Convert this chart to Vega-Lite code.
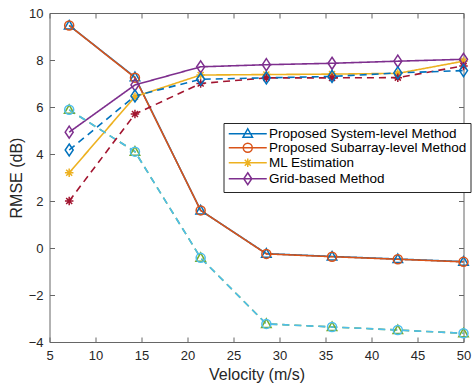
{
  "$schema": "https://vega.github.io/schema/vega-lite/v6.json",
  "width": 414,
  "height": 329,
  "autosize": {"type": "none"},
  "padding": {"left": 49.5, "top": 13, "right": 11.5, "bottom": 44},
  "background": "white",
  "config": {"view": {"stroke": null}, "font": "Liberation Sans",
    "legend": {"labelFontSize": 13.5, "labelFont": "Liberation Sans", "labelColor": "#000000", "labelLimit": 300, "padding": 4, "rowPadding": -1, "strokeColor": "#262626", "fillColor": "white", "symbolOffset": 13.5, "labelOffset": 14.5, "symbolStrokeWidth": 1.5, "symbolOpacity": 1, "symbolSize": 100}},
  "data": {"values": [
    {"series": "Proposed System-level Method", "v": 7.14, "rmse": 9.47},
    {"series": "Proposed System-level Method", "v": 14.29, "rmse": 7.27},
    {"series": "Proposed System-level Method", "v": 21.43, "rmse": 1.6},
    {"series": "Proposed System-level Method", "v": 28.57, "rmse": -0.24},
    {"series": "Proposed System-level Method", "v": 35.71, "rmse": -0.36},
    {"series": "Proposed System-level Method", "v": 42.86, "rmse": -0.47},
    {"series": "Proposed System-level Method", "v": 50, "rmse": -0.58},
    {"series": "Proposed Subarray-level Method", "v": 7.14, "rmse": 9.47},
    {"series": "Proposed Subarray-level Method", "v": 14.29, "rmse": 7.25},
    {"series": "Proposed Subarray-level Method", "v": 21.43, "rmse": 1.6},
    {"series": "Proposed Subarray-level Method", "v": 28.57, "rmse": -0.25},
    {"series": "Proposed Subarray-level Method", "v": 35.71, "rmse": -0.37},
    {"series": "Proposed Subarray-level Method", "v": 42.86, "rmse": -0.48},
    {"series": "Proposed Subarray-level Method", "v": 50, "rmse": -0.59},
    {"series": "ML Estimation", "v": 7.14, "rmse": 3.2},
    {"series": "ML Estimation", "v": 14.29, "rmse": 6.44},
    {"series": "ML Estimation", "v": 21.43, "rmse": 7.36},
    {"series": "ML Estimation", "v": 28.57, "rmse": 7.38},
    {"series": "ML Estimation", "v": 35.71, "rmse": 7.4},
    {"series": "ML Estimation", "v": 42.86, "rmse": 7.43},
    {"series": "ML Estimation", "v": 50, "rmse": 7.95},
    {"series": "Grid-based Method", "v": 7.14, "rmse": 4.93},
    {"series": "Grid-based Method", "v": 14.29, "rmse": 6.94},
    {"series": "Grid-based Method", "v": 21.43, "rmse": 7.71},
    {"series": "Grid-based Method", "v": 28.57, "rmse": 7.8},
    {"series": "Grid-based Method", "v": 35.71, "rmse": 7.86},
    {"series": "Grid-based Method", "v": 42.86, "rmse": 7.95},
    {"series": "Grid-based Method", "v": 50, "rmse": 8.03},
    {"series": "System-level (dashed)", "v": 7.14, "rmse": 5.88},
    {"series": "System-level (dashed)", "v": 14.29, "rmse": 4.1},
    {"series": "System-level (dashed)", "v": 21.43, "rmse": -0.42},
    {"series": "System-level (dashed)", "v": 28.57, "rmse": -3.23},
    {"series": "System-level (dashed)", "v": 35.71, "rmse": -3.36},
    {"series": "System-level (dashed)", "v": 42.86, "rmse": -3.49},
    {"series": "System-level (dashed)", "v": 50, "rmse": -3.63},
    {"series": "Subarray-level (dashed)", "v": 7.14, "rmse": 5.88},
    {"series": "Subarray-level (dashed)", "v": 14.29, "rmse": 4.1},
    {"series": "Subarray-level (dashed)", "v": 21.43, "rmse": -0.42},
    {"series": "Subarray-level (dashed)", "v": 28.57, "rmse": -3.23},
    {"series": "Subarray-level (dashed)", "v": 35.71, "rmse": -3.36},
    {"series": "Subarray-level (dashed)", "v": 42.86, "rmse": -3.49},
    {"series": "Subarray-level (dashed)", "v": 50, "rmse": -3.63},
    {"series": "ML Estimation (dashed)", "v": 7.14, "rmse": 2.0},
    {"series": "ML Estimation (dashed)", "v": 14.29, "rmse": 5.7},
    {"series": "ML Estimation (dashed)", "v": 21.43, "rmse": 7.0},
    {"series": "ML Estimation (dashed)", "v": 28.57, "rmse": 7.24},
    {"series": "ML Estimation (dashed)", "v": 35.71, "rmse": 7.24},
    {"series": "ML Estimation (dashed)", "v": 42.86, "rmse": 7.25},
    {"series": "ML Estimation (dashed)", "v": 50, "rmse": 7.75},
    {"series": "Grid-based (dashed)", "v": 7.14, "rmse": 4.17},
    {"series": "Grid-based (dashed)", "v": 14.29, "rmse": 6.47},
    {"series": "Grid-based (dashed)", "v": 21.43, "rmse": 7.18},
    {"series": "Grid-based (dashed)", "v": 28.57, "rmse": 7.24},
    {"series": "Grid-based (dashed)", "v": 35.71, "rmse": 7.3},
    {"series": "Grid-based (dashed)", "v": 42.86, "rmse": 7.45},
    {"series": "Grid-based (dashed)", "v": 50, "rmse": 7.55}
  ]},
  "layer": [
    {
      "mark": {"type": "line", "strokeWidth": 1.6},
      "encoding": {
        "x": {"field": "v", "type": "quantitative", "scale": {"domain": [5, 50], "nice": false, "zero": false},
          "axis": {"orient": "bottom", "values": [5, 10, 15, 20, 25, 30, 35, 40, 45, 50], "tickSize": -5, "labelPadding": 12, "labelFontSize": 13, "labelColor": "#262626", "domainColor": "#666666", "tickColor": "#666666", "grid": false, "labelFlush": false, "title": "Velocity (m/s)", "titleFontSize": 16, "titleFontWeight": "normal", "titleColor": "#262626", "titlePadding": 4}},
        "y": {"field": "rmse", "type": "quantitative", "scale": {"domain": [-4, 10], "nice": false, "zero": false},
          "axis": {"orient": "left", "values": [-4, -2, 0, 2, 4, 6, 8, 10], "tickSize": -5, "labelPadding": 11.5, "labelFontSize": 13, "labelColor": "#262626", "domainColor": "#666666", "tickColor": "#666666", "grid": false, "labelFlush": false, "title": "RMSE (dB)", "titleFontSize": 16, "titleFontWeight": "normal", "titleColor": "#262626", "titlePadding": 4}},
        "color": {"field": "series", "type": "nominal", "legend": null,
          "scale": {"domain": ["Proposed System-level Method", "Proposed Subarray-level Method", "ML Estimation", "Grid-based Method", "System-level (dashed)", "Subarray-level (dashed)", "ML Estimation (dashed)", "Grid-based (dashed)"],
            "range": ["#0072BD", "#D95319", "#EDB120", "#7E2F8E", "#77AC30", "#4DBEEE", "#A2142F", "#0072BD"]}},
        "strokeDash": {"field": "series", "type": "nominal", "legend": null,
          "scale": {"domain": ["Proposed System-level Method", "Proposed Subarray-level Method", "ML Estimation", "Grid-based Method", "System-level (dashed)", "Subarray-level (dashed)", "ML Estimation (dashed)", "Grid-based (dashed)"],
            "range": [[1, 0], [1, 0], [1, 0], [1, 0], [7, 5], [7, 5], [7, 5], [7, 5]]}}
      }
    },
    {
      "transform": [{"filter": {"field": "series", "oneOf": ["Proposed System-level Method", "System-level (dashed)"]}}],
      "mark": {"type": "point", "filled": false, "strokeWidth": 1.5, "size": 100, "opacity": 1, "shape": "M0,-1L0.95,0.7L-0.95,0.7Z"},
      "encoding": {
        "x": {"field": "v", "type": "quantitative", "axis": null},
        "y": {"field": "rmse", "type": "quantitative", "axis": null},
        "color": {"field": "series", "type": "nominal", "legend": null}
      }
    },
    {
      "transform": [{"filter": {"field": "series", "oneOf": ["Proposed Subarray-level Method", "Subarray-level (dashed)"]}}],
      "mark": {"type": "point", "filled": false, "strokeWidth": 1.5, "size": 100, "opacity": 1, "shape": "M0.9,0A0.9,0.9 0 1,1 -0.9,0A0.9,0.9 0 1,1 0.9,0Z"},
      "encoding": {
        "x": {"field": "v", "type": "quantitative", "axis": null},
        "y": {"field": "rmse", "type": "quantitative", "axis": null},
        "color": {"field": "series", "type": "nominal", "legend": null}
      }
    },
    {
      "transform": [{"filter": {"field": "series", "oneOf": ["ML Estimation", "ML Estimation (dashed)"]}}],
      "mark": {"type": "point", "filled": false, "strokeWidth": 1.5, "size": 100, "opacity": 1, "shape": "M0,-0.85V0.85M-0.85,0H0.85M-0.6,-0.6L0.6,0.6M-0.6,0.6L0.6,-0.6"},
      "encoding": {
        "x": {"field": "v", "type": "quantitative", "axis": null},
        "y": {"field": "rmse", "type": "quantitative", "axis": null},
        "color": {"field": "series", "type": "nominal", "legend": null}
      }
    },
    {
      "transform": [{"filter": {"field": "series", "oneOf": ["Grid-based Method", "Grid-based (dashed)"]}}],
      "mark": {"type": "point", "filled": false, "strokeWidth": 1.5, "size": 100, "opacity": 1, "shape": "M0,-1.2L0.8,0L0,1.2L-0.8,0Z"},
      "encoding": {
        "x": {"field": "v", "type": "quantitative", "axis": null},
        "y": {"field": "rmse", "type": "quantitative", "axis": null},
        "color": {"field": "series", "type": "nominal", "legend": null}
      }
    },
    {
      "transform": [{"filter": {"field": "series", "oneOf": ["Proposed System-level Method", "Proposed Subarray-level Method", "ML Estimation", "Grid-based Method"]}}],
      "mark": {"type": "point", "filled": false, "strokeWidth": 1.5, "size": 100, "opacity": 0},
      "encoding": {
        "x": {"field": "v", "type": "quantitative", "axis": {"orient": "top", "values": [5, 10, 15, 20, 25, 30, 35, 40, 45, 50], "tickSize": -5, "labels": false, "title": null, "grid": false, "domainColor": "#666666", "tickColor": "#666666"}},
        "y": {"field": "rmse", "type": "quantitative", "axis": {"orient": "right", "values": [-4, -2, 0, 2, 4, 6, 8, 10], "tickSize": -5, "labels": false, "title": null, "grid": false, "domainColor": "#666666", "tickColor": "#666666"}},
        "stroke": {"field": "series", "type": "nominal",
          "scale": {"domain": ["Proposed System-level Method", "Proposed Subarray-level Method", "ML Estimation", "Grid-based Method"], "range": ["#0072BD", "#D95319", "#EDB120", "#7E2F8E"]},
          "legend": {"title": null, "orient": "none", "legendX": 174, "legendY": 110, "labelFontSize": 13.5, "rowPadding": -1, "labelOffset": 14.5, "symbolOffset": 13.5}},
        "shape": {"field": "series", "type": "nominal",
          "scale": {"domain": ["Proposed System-level Method", "Proposed Subarray-level Method", "ML Estimation", "Grid-based Method"],
            "range": [
              "M-3.8,0H3.8M0,-1L0.95,0.7L-0.95,0.7Z",
              "M-3.8,0H3.8M0.9,0A0.9,0.9 0 1,1 -0.9,0A0.9,0.9 0 1,1 0.9,0Z",
              "M-3.8,0H3.8M0,-0.85V0.85M-0.6,-0.6L0.6,0.6M-0.6,0.6L0.6,-0.6",
              "M-3.8,0H3.8M0,-1.2L0.8,0L0,1.2L-0.8,0Z"
            ]},
          "legend": {"title": null, "orient": "none", "legendX": 174, "legendY": 110, "labelFontSize": 13.5, "rowPadding": -1, "labelOffset": 14.5, "symbolOffset": 13.5}}
      }
    }
  ],
  "resolve": {"axis": {"x": "independent", "y": "independent"}}
}
